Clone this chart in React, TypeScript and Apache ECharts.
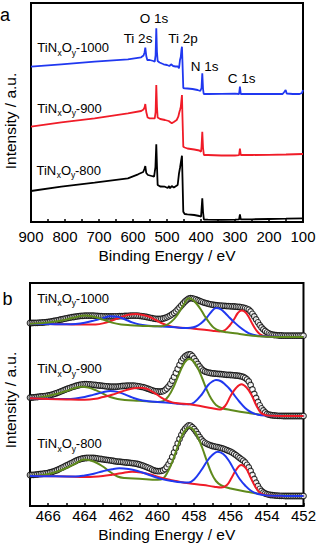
import React, { useEffect, useRef } from "react";
import * as echarts from "echarts";

const FONT = '"Liberation Sans", Arial, Helvetica, sans-serif';
const BLUE = "#2038f0";
const RED = "#f01c28";
const GREEN = "#5f8a1c";
const BLACK = "#000000";

// ---------- Panel a: survey spectra [binding energy, intensity a.u.] ----------
const surveyTi1000: [number, number][] = [
  [900, 155.3], [811, 157.7], [713, 160.3], [615, 162.7], [576, 164.7], [569, 166.5], [566, 169.5], [563.8, 174.3],
  [561, 166], [558, 162], [551, 162], [540, 161], [536, 160.3], [533.5, 167], [531.5, 193.7], [529.5, 170],
  [527.5, 161], [522, 159.5], [510, 157.7], [500, 157], [493, 156], [488, 157.7], [482, 156], [475, 155.5],
  [468, 155.5], [464.7, 153.7], [461.8, 162], [459.5, 165], [457.5, 172], [456, 175.3], [454.5, 160], [452.1, 134],
  [448, 133.7], [440, 133.5], [425, 133], [410, 132], [402, 131], [398.5, 134], [396.2, 148.7], [394, 133],
  [392, 128], [380, 128], [340, 128.2], [300, 128.3], [288, 128], [285.5, 135.3], [283, 128], [250, 128],
  [200, 128], [160, 128], [154, 130.5], [151, 132], [148, 128.5], [130, 128], [110, 128], [103, 129], [100, 132],
];
const surveyTi900: [number, number][] = [
  [900, 95.3], [811, 99.7], [713, 103.7], [615, 108.7], [576, 111], [569, 112.5], [566, 114.5], [563.8, 118],
  [561, 110], [557, 104.5], [551, 103.7], [540, 103.7], [536, 103.7], [533.5, 110], [531.5, 137], [529.5, 115],
  [527.5, 104.5], [520, 103], [506, 102], [495, 101], [486, 98.7], [480, 100], [471.5, 102], [466.8, 105.3],
  [463.5, 110], [461.8, 112], [459.5, 115], [457.5, 122], [456, 127], [454.5, 105], [452.1, 75.3], [448, 74.5],
  [440, 73.5], [420, 72.5], [405, 71.5], [400, 70.3], [398.5, 75], [396.2, 90.3], [394, 74], [391.5, 67],
  [380, 67], [340, 66.5], [300, 66.5], [288, 66.8], [285.5, 73.5], [283, 67], [250, 67], [200, 67.2],
  [150, 67.5], [100, 68],
];
const surveyTi800: [number, number][] = [
  [900, 31], [811, 35.3], [713, 39.3], [615, 43.7], [585, 47.7], [570, 50], [566.5, 53], [563.8, 56],
  [561, 49], [556, 47], [545, 46], [538, 45.3], [534, 55], [531.5, 77.7], [529.5, 56], [527.5, 37],
  [520, 35.5], [506, 35.3], [498, 34], [494, 36], [491, 33.7], [486, 36], [480, 34.5], [476.5, 35.3],
  [468.6, 37], [464.7, 48.7], [461.8, 54], [459, 60], [456, 66.3], [454.5, 45], [452.1, 10.3], [448, 8],
  [440, 7.7], [420, 7], [405, 6], [400, 5.3], [398.5, 12], [396.2, 23.7], [394, 10], [391.5, 2.5],
  [380, 2.3], [340, 2.2], [300, 2.4], [288, 2.7], [285.5, 7.5], [283, 2.7], [250, 2.7], [200, 3],
  [150, 3.3], [100, 3.7],
];

// ---------- Panel b: Ti 2p high resolution ----------
const fineEnergy = [
  467.0, 466.9, 466.8, 466.7, 466.6, 466.5, 466.4, 466.3, 466.2, 466.1,
  466.0, 465.9, 465.8, 465.7, 465.6, 465.5, 465.4, 465.3, 465.2, 465.1,
  465.0, 464.9, 464.8, 464.7, 464.6, 464.5, 464.4, 464.3, 464.2, 464.1,
  464.0, 463.9, 463.8, 463.7, 463.6, 463.5, 463.4, 463.3, 463.2, 463.1,
  463.0, 462.9, 462.8, 462.7, 462.6, 462.5, 462.4, 462.3, 462.2, 462.1,
  462.0, 461.9, 461.8, 461.7, 461.6, 461.5, 461.4, 461.3, 461.2, 461.1,
  461.0, 460.9, 460.8, 460.7, 460.6, 460.5, 460.4, 460.3, 460.2, 460.1,
  460.0, 459.9, 459.8, 459.7, 459.6, 459.5, 459.4, 459.3, 459.2, 459.1,
  459.0, 458.9, 458.8, 458.7, 458.6, 458.5, 458.4, 458.3, 458.2, 458.1,
  458.0, 457.9, 457.8, 457.7, 457.6, 457.5, 457.4, 457.3, 457.2, 457.1,
  457.0, 456.9, 456.8, 456.7, 456.6, 456.5, 456.4, 456.3, 456.2, 456.1,
  456.0, 455.9, 455.8, 455.7, 455.6, 455.5, 455.4, 455.3, 455.2, 455.1,
  455.0, 454.9, 454.8, 454.7, 454.6, 454.5, 454.4, 454.3, 454.2, 454.1,
  454.0, 453.9, 453.8, 453.7, 453.6, 453.5, 453.4, 453.3, 453.2, 453.1,
  453.0, 452.9, 452.8, 452.7, 452.6, 452.5, 452.4, 452.3, 452.2, 452.1,
  452.0,
];
const measured1000 = [
  183.0, 183.0, 183.1, 183.1, 183.2, 183.3, 183.4, 183.5, 183.7, 183.8,
  184.0, 184.3, 184.6, 185.0, 185.3, 185.7, 186.1, 186.5, 186.9, 187.3,
  187.7, 188.1, 188.4, 188.8, 189.0, 189.3, 189.6, 189.9, 190.1, 190.2,
  190.3, 190.4, 190.4, 190.4, 190.4, 190.3, 190.2, 190.1, 189.9, 189.8,
  189.7, 189.6, 189.6, 189.6, 189.6, 189.6, 189.6, 189.7, 189.7, 189.8,
  189.8, 189.9, 190.0, 190.1, 190.2, 190.3, 190.4, 190.4, 190.4, 190.3,
  190.2, 189.9, 189.6, 189.3, 189.0, 188.6, 188.2, 187.8, 187.4, 187.2,
  187.0, 187.0, 187.2, 187.5, 188.0, 188.7, 189.6, 190.6, 191.8, 193.2,
  194.7, 196.6, 198.5, 200.5, 202.5, 204.5, 206.0, 207.3, 207.8, 207.6,
  207.2, 206.5, 205.8, 205.1, 204.4, 203.7, 203.1, 202.6, 202.1, 201.7,
  201.3, 201.0, 200.8, 200.6, 200.4, 200.3, 200.2, 200.1, 199.9, 199.8,
  199.7, 199.6, 199.5, 199.3, 199.2, 199.0, 198.7, 198.4, 197.9, 197.2,
  196.3, 194.5, 192.2, 189.5, 186.6, 183.7, 180.9, 178.5, 176.6, 175.0,
  173.7, 172.7, 171.9, 171.4, 171.0, 170.8, 170.6, 170.5, 170.5, 170.4,
  170.4, 170.3, 170.3, 170.3, 170.3, 170.3, 170.3, 170.3, 170.3, 170.3,
  170.3,
];
const measured900 = [
  108.4, 108.5, 108.6, 108.8, 109.0, 109.3, 109.5, 109.7, 109.9, 110.2,
  110.5, 110.9, 111.4, 111.9, 112.5, 113.2, 113.9, 114.6, 115.3, 116.1,
  116.8, 117.5, 118.2, 118.8, 119.4, 120.0, 120.5, 121.0, 121.4, 121.7,
  121.8, 121.8, 121.7, 121.6, 121.4, 121.2, 121.0, 120.7, 120.5, 120.3,
  120.1, 119.9, 119.7, 119.5, 119.4, 119.3, 119.3, 119.3, 119.4, 119.6,
  119.8, 120.0, 120.2, 120.3, 120.4, 120.4, 120.4, 120.3, 120.2, 119.9,
  119.6, 119.2, 118.8, 118.3, 117.7, 117.1, 116.4, 115.7, 115.1, 114.7,
  114.5, 114.4, 114.5, 114.8, 115.8, 117.5, 119.6, 122.2, 125.5, 129.0,
  133.0, 137.0, 141.0, 145.0, 147.7, 149.5, 150.9, 151.6, 151.5, 150.0,
  147.5, 144.8, 142.0, 139.5, 137.3, 135.5, 134.5, 133.8, 133.3, 133.0,
  132.7, 132.5, 132.3, 132.1, 132.0, 131.8, 131.6, 131.4, 131.2, 131.1,
  131.0, 130.8, 130.7, 130.5, 130.3, 130.0, 129.6, 129.0, 128.1, 126.6,
  124.5, 121.0, 116.5, 112.0, 108.0, 104.0, 100.7, 97.7, 95.5, 93.5,
  92.0, 91.4, 91.0, 90.7, 90.5, 90.3, 90.2, 90.1, 90.1, 90.0,
  90.0, 90.0, 90.0, 90.0, 90.0, 90.0, 90.0, 90.0, 90.0, 90.0,
  90.0,
];
const measured800 = [
  31.0, 31.1, 31.2, 31.3, 31.5, 31.8, 32.0, 32.2, 32.5, 32.7,
  33.0, 33.5, 34.0, 34.6, 35.3, 36.0, 36.9, 37.8, 38.7, 39.6,
  40.5, 41.4, 42.4, 43.2, 44.1, 45.0, 45.8, 46.5, 47.1, 47.5,
  47.8, 48.0, 48.2, 48.2, 48.1, 48.0, 47.8, 47.6, 47.2, 47.0,
  46.7, 46.4, 46.1, 45.8, 45.6, 45.3, 45.0, 44.7, 44.4, 44.3,
  44.1, 43.9, 43.7, 43.5, 43.3, 43.1, 42.9, 42.7, 42.4, 42.0,
  41.5, 40.9, 40.3, 39.6, 38.9, 38.2, 37.3, 36.4, 35.6, 35.1,
  34.8, 34.8, 35.1, 35.7, 36.9, 39.0, 41.8, 45.0, 49.0, 53.5,
  58.0, 62.5, 67.0, 71.0, 74.5, 77.0, 79.2, 80.5, 80.4, 78.8,
  77.0, 74.5, 71.8, 69.0, 66.6, 64.5, 63.2, 62.2, 61.4, 60.6,
  60.0, 59.6, 59.2, 58.8, 58.3, 57.8, 57.3, 56.6, 55.9, 55.1,
  54.3, 53.3, 52.1, 50.8, 49.4, 48.0, 46.7, 45.3, 43.5, 41.2,
  38.5, 35.0, 31.0, 27.0, 23.3, 20.0, 17.2, 15.0, 13.5, 12.5,
  11.8, 11.4, 11.0, 10.8, 10.6, 10.4, 10.3, 10.2, 10.2, 10.1,
  10.0, 10.0, 10.0, 10.0, 10.0, 10.0, 10.0, 10.0, 10.0, 10.0,
  10.0,
];

const fit1000TiO2: [number, number][] = [
  [467, 182.3], [466.5, 182.7], [466, 183.4], [465.5, 184.8], [465, 186.6], [464.5, 188.8], [464, 190.6], [463.5, 189.3],
  [463, 186.4], [462.5, 183.4], [462, 181.6], [461.5, 180.8], [461, 180.3], [460.5, 180], [459.8, 179.7], [459.5, 181.2],
  [459.25, 184.2], [459, 189], [458.75, 196], [458.5, 203.5], [458.3, 207.7], [458.1, 206.5], [457.85, 202], [457.6, 195.5],
  [457.4, 189.5], [457.15, 183], [456.9, 178], [456.6, 175.2], [456.2, 173.8], [455.5, 172], [455, 170.7], [454.5, 169.8],
  [454, 169.3], [453, 169], [452, 169],
];
const fit1000TiON: [number, number][] = [
  [467, 182.3], [466, 182], [465, 181.7], [464.5, 182.1], [464, 183.3], [463.5, 185.4], [463, 187.9], [462.6, 189.7],
  [462.2, 189.2], [461.8, 186.8], [461.4, 183.6], [461, 181.4], [460.5, 180.3], [460, 179.7], [459, 178.7], [458.5, 178],
  [458.2, 178.2], [457.9, 179.5], [457.6, 183], [457.3, 188.5], [457.05, 194.3], [456.8, 198], [456.55, 196.8], [456.3, 193],
  [456.05, 188.2], [455.8, 183.8], [455.5, 179], [455.2, 175], [454.9, 172], [454.5, 170.3], [454, 169.4], [453, 169], [452, 169],
];
const fit1000TiN: [number, number][] = [
  [467, 182.3], [466, 182], [465, 181.7], [464, 181.4], [463.4, 181.6], [463, 182.6], [462.5, 185.5], [462, 189],
  [461.6, 191.3], [461.2, 192], [460.8, 191], [460.5, 189.5], [460.1, 186], [459.8, 183], [459.4, 180.3], [459, 178.8],
  [458, 177.3], [457, 175.3], [456.6, 174.6], [456.3, 176], [456.05, 180.5], [455.8, 187], [455.6, 193], [455.4, 195.5],
  [455.2, 194], [455, 189], [454.8, 182], [454.6, 176], [454.4, 172], [454.1, 169.8], [453.7, 169.2], [453, 169], [452, 169],
];

const fit900TiO2: [number, number][] = [
  [467, 107.7], [466.5, 108.5], [466, 110], [465.5, 112.3], [465, 115], [464.6, 117.6], [464.2, 119.3], [463.8, 118.4],
  [463.4, 115.8], [463, 112.3], [462.6, 109], [462.2, 107], [461.8, 106], [461, 105.2], [460, 104], [459.7, 104.8],
  [459.4, 110], [459.1, 120], [458.85, 131], [458.6, 141], [458.4, 146], [458.25, 147], [458.05, 145], [457.8, 138],
  [457.55, 127.5], [457.3, 116], [457.05, 107], [456.8, 101], [456.5, 98], [456, 96], [455, 93], [454, 90.8], [453, 90.2], [452, 90],
];
const fit900TiON: [number, number][] = [
  [467, 107.7], [466, 107.2], [465, 106.9], [464.5, 107.5], [464, 109], [463.5, 111.4], [463, 113.8], [462.6, 115],
  [462.2, 114.1], [461.8, 111.6], [461.4, 108.6], [461, 106.2], [460.5, 104.8], [460, 104], [459, 102.6], [458.6, 101.8],
  [458.3, 101.8], [458, 103.5], [457.6, 111], [457.25, 120.5], [457, 124.5], [456.8, 126], [456.55, 125], [456.3, 121.5],
  [456.05, 117], [455.8, 111], [455.5, 104], [455.2, 98], [454.9, 94], [454.5, 91.3], [454, 90.5], [453, 90.1], [452, 90],
];
const fit900TiN: [number, number][] = [
  [467, 107.7], [466, 107], [465, 106.5], [464, 106.2], [463.4, 107.2], [463, 109], [462.5, 111.2], [462, 114.3],
  [461.5, 117], [461, 118.3], [460.6, 117.2], [460.3, 114.3], [460, 111], [459.8, 108.3], [459.5, 105.5], [459.2, 103.6],
  [459, 103], [458, 101], [457, 97.7], [456.6, 96.5], [456.3, 100], [456, 110], [455.7, 118], [455.4, 121.7],
  [455.1, 118], [454.85, 111], [454.6, 101], [454.35, 93.5], [454.1, 91], [453.7, 90.3], [453, 90.1], [452, 90],
];

const fit800TiO2: [number, number][] = [
  [467, 30], [466.5, 30.6], [466, 32], [465.5, 34.5], [465, 38], [464.5, 42.5], [464, 46.5], [463.5, 44.5],
  [463, 39.5], [462.6, 34], [462.2, 29.5], [461.8, 28], [461, 27.2], [460, 26.2], [459.7, 27.5], [459.45, 34],
  [459.2, 44], [458.95, 57], [458.7, 69], [458.45, 76.5], [458.25, 78.7], [458.05, 76.5], [457.8, 69], [457.55, 58],
  [457.3, 45], [457.05, 33], [456.8, 25], [456.5, 20.5], [456, 17.5], [455, 14], [454, 11], [453, 10.2], [452, 10],
];
const fit800TiON: [number, number][] = [
  [467, 30], [466, 29.8], [465, 29.5], [464.5, 29.5], [464, 30.5], [463.5, 32.3], [463, 34.8], [462.5, 36.8],
  [462.1, 37.7], [461.6, 37], [461.1, 35], [460.6, 32], [460.1, 28.8], [459.7, 26.6], [459.2, 25], [458.7, 23.8],
  [458.3, 23.5], [458, 26.5], [457.6, 36], [457.3, 44.5], [457, 51], [456.7, 54.3], [456.4, 52], [456.1, 45.5],
  [455.8, 36], [455.5, 27], [455.2, 20.5], [454.9, 15.5], [454.5, 12], [454, 10.6], [453, 10.1], [452, 10],
];
const fit800TiN: [number, number][] = [
  [467, 30], [465, 29.5], [464, 29], [463.5, 29.2], [463, 30], [462.5, 31.3], [462, 32.8], [461.4, 34.3],
  [460.9, 33.5], [460.4, 31.5], [459.9, 28.8], [459.4, 26.5], [459, 25], [458.3, 22.7], [457.5, 21], [456.9, 19.3],
  [456.5, 18.5], [456.2, 21], [455.95, 28], [455.7, 36], [455.42, 41], [455.15, 37.5], [454.9, 28.5], [454.65, 19.5],
  [454.4, 13.5], [454.1, 11], [453.5, 10.3], [452, 10],
];

const surveyLabels = [
  { text: "O 1s", x: 154, y: 18 },
  { text: "Ti 2s", x: 138, y: 38.3 },
  { text: "Ti 2p", x: 183, y: 38.3 },
  { text: "N 1s", x: 204.5, y: 66.5 },
  { text: "C 1s", x: 241.5, y: 78.7 },
];

function tinLabel(suffix: string, x: number, y: number) {
  const main = { fontSize: 13, fontFamily: FONT, fill: "#000", verticalAlign: "middle", align: "left" };
  const sub = { fontSize: 8.5, fontFamily: FONT, fill: "#000", verticalAlign: "middle", align: "left" };
  return {
    type: "group",
    x,
    y,
    children: [
      { type: "text", x: 0, y: 0, style: { ...main, text: "TiN" } },
      { type: "text", x: 20.2, y: 5, style: { ...sub, text: "x" } },
      { type: "text", x: 24.4, y: 0, style: { ...main, text: "O" } },
      { type: "text", x: 34.4, y: 5, style: { ...sub, text: "y" } },
      { type: "text", x: 38.5, y: 0, style: { ...main, text: "-" + suffix } },
    ],
  };
}

function lineSeries(data: [number, number][], color: string, idx: number, width: number, smooth: number | boolean) {
  return {
    type: "line",
    xAxisIndex: idx,
    yAxisIndex: idx,
    data,
    symbol: "none",
    showSymbol: false,
    smooth,
    silent: true,
    lineStyle: { color, width },
    itemStyle: { color },
  };
}

function circles(values: number[]) {
  return {
    type: "scatter",
    xAxisIndex: 1,
    yAxisIndex: 1,
    data: fineEnergy.map((e, i) => [e, values[i]]),
    symbol: "circle",
    symbolSize: 5.6,
    silent: true,
    itemStyle: { color: "#ffffff", borderColor: "#000000", borderWidth: 1.15 },
  };
}

export default function App() {
  const ref = useRef<HTMLDivElement>(null);
  useEffect(() => {
    if (!ref.current) return;
    const chart = echarts.init(ref.current, undefined, { renderer: "svg" });
    const axisCommon = {
      type: "value",
      inverse: true,
      axisLine: { show: true, onZero: false, lineStyle: { color: "#000", width: 2 } },
      axisTick: { show: true, inside: true, length: 3, lineStyle: { color: "#000", width: 1.5 } },
      splitLine: { show: false },
      nameLocation: "middle",
      nameTextStyle: { fontSize: 15.5, fontFamily: FONT, color: "#000" },
      name: "Binding Energy / eV",
    };
    const option: any = {
      animation: false,
      backgroundColor: "#ffffff",
      grid: [
        { left: 31, top: 3, width: 272, height: 219, show: true, borderColor: "#000", borderWidth: 2, backgroundColor: "transparent" },
        { left: 30, top: 283, width: 274, height: 223, show: true, borderColor: "#000", borderWidth: 2, backgroundColor: "transparent" },
      ],
      xAxis: [
        {
          ...axisCommon,
          gridIndex: 0,
          min: 100,
          max: 900,
          interval: 50,
          nameGap: 25,
          axisLabel: {
            color: "#000",
            fontSize: 15,
            fontFamily: FONT,
            margin: 7,
            formatter: (v: number) => (v % 100 === 0 ? String(v) : ""),
          },
        },
        {
          ...axisCommon,
          gridIndex: 1,
          min: 452,
          max: 467,
          interval: 1,
          nameGap: 20,
          axisLabel: {
            color: "#000",
            fontSize: 15,
            fontFamily: FONT,
            margin: 2,
            formatter: (v: number) => (v % 2 === 0 ? String(v) : ""),
          },
        },
      ],
      yAxis: [
        { type: "value", gridIndex: 0, min: 0, max: 219, show: false },
        { type: "value", gridIndex: 1, min: 0, max: 223, show: false },
      ],
      series: [
        lineSeries(surveyTi800, BLACK, 0, 1.8, false),
        lineSeries(surveyTi900, RED, 0, 1.8, false),
        lineSeries(surveyTi1000, BLUE, 0, 1.8, false),
        circles(measured1000),
        lineSeries(fit1000TiN, RED, 1, 2, 0.4),
        lineSeries(fit1000TiON, BLUE, 1, 2, 0.4),
        lineSeries(fit1000TiO2, GREEN, 1, 2, 0.4),
        circles(measured900),
        lineSeries(fit900TiO2, GREEN, 1, 2, 0.4),
        lineSeries(fit900TiON, BLUE, 1, 2, 0.4),
        lineSeries(fit900TiN, RED, 1, 2, 0.4),
        circles(measured800),
        lineSeries(fit800TiO2, GREEN, 1, 2, 0.4),
        lineSeries(fit800TiN, RED, 1, 2, 0.4),
        lineSeries(fit800TiON, BLUE, 1, 2, 0.4),
      ],
      graphic: [
        { type: "text", x: 5, y: 15.4, style: { text: "a", fontSize: 18, fontFamily: FONT, fill: "#000", align: "center", verticalAlign: "middle" } },
        { type: "text", x: 7.5, y: 298.7, style: { text: "b", fontSize: 18, fontFamily: FONT, fill: "#000", align: "center", verticalAlign: "middle" } },
        { type: "text", x: 10, y: 121, rotation: Math.PI / 2, style: { text: "Intensity / a.u.", fontSize: 15.5, fontFamily: FONT, fill: "#000", align: "center", verticalAlign: "middle" } },
        { type: "text", x: 10, y: 400, rotation: Math.PI / 2, style: { text: "Intensity / a.u.", fontSize: 15.5, fontFamily: FONT, fill: "#000", align: "center", verticalAlign: "middle" } },
        ...surveyLabels.map((l) => ({
          type: "text",
          x: l.x,
          y: l.y,
          style: { text: l.text, fontSize: 13.5, fontFamily: FONT, fill: "#000", align: "center", verticalAlign: "middle" },
        })),
        tinLabel("1000", 37.3, 47.7),
        tinLabel("900", 37.3, 108.3),
        tinLabel("800", 36.5, 170.3),
        tinLabel("1000", 37.3, 298),
        tinLabel("900", 37.3, 368.7),
        tinLabel("800", 37.3, 443.8),
      ],
    };
    chart.setOption(option);
    return () => chart.dispose();
  }, []);
  return (
    <div
      ref={ref}
      style={{ position: "absolute", left: 0, top: 0, width: 319, height: 550, background: "#fff" }}
    />
  );
}
